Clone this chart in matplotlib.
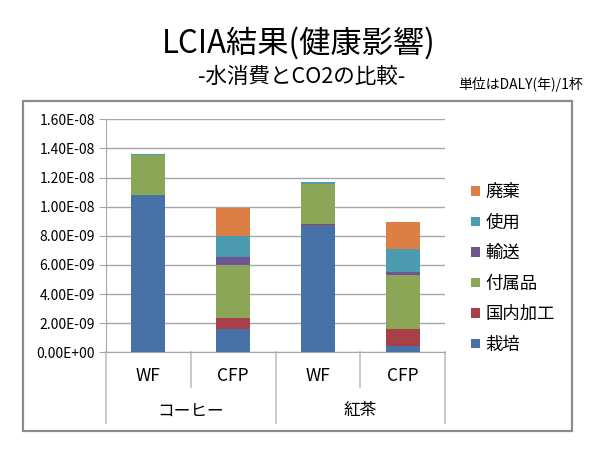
import numpy as np
import matplotlib.pyplot as plt
from matplotlib.patches import Rectangle
from matplotlib.ticker import FixedLocator, FixedFormatter

plt.rcParams['font.family'] = ['Noto Sans CJK JP', 'DejaVu Sans']

# values in units of 1e-9 DALY per cup
bars = ['WF', 'CFP', 'WF', 'CFP']
groups = ['コーヒー', '紅茶']
series = ['栽培', '国内加工', '付属品', '輸送', '使用', '廃棄']
saibai = [10.78, 1.62, 8.72, 0.45]
kokunai = [0.0, 0.71, 0.07, 1.17]
fuzoku = [2.75, 3.69, 2.79, 3.69]
yuso = [0.0, 0.50, 0.0, 0.23]
shiyo = [0.09, 1.49, 0.12, 1.53]
haiki = [0.0, 1.88, 0.0, 1.86]
yticks = [0, 2e-9, 4e-9, 6e-9, 8e-9, 1e-8, 1.2e-8, 1.4e-8, 1.6e-8]
ylabels = ['0.00E+00', '2.00E-09', '4.00E-09', '6.00E-09', '8.00E-09',
           '1.00E-08', '1.20E-08', '1.40E-08', '1.60E-08']

colors = ['#4672A8', '#A8404A', '#8BA656', '#6E5692', '#4B9CB1', '#DB7F45']

fig = plt.figure(figsize=(5.99, 4.49), dpi=100)
fig.patches.append(Rectangle((0.0384, 0.0401), 0.9165, 0.735, transform=fig.transFigure,
                             fill=False, edgecolor='#8C8C8C', linewidth=1.6))

ax = fig.add_axes([0.177, 0.2154, 0.566, 0.5189])
x = np.arange(len(bars))
bottom = np.zeros(len(bars))
handles = []
for name, vals, c in zip(series, [saibai, kokunai, fuzoku, yuso, shiyo, haiki], colors):
    v = np.array(vals) * 1e-9
    h = ax.bar(x, v, 0.4, bottom=bottom, color=c, label=name, zorder=3)
    handles.append(h)
    bottom = bottom + v

ax.set_xlim(-0.5, 3.5)
ax.set_ylim(0, 1.6e-8)
ax.yaxis.set_major_locator(FixedLocator(yticks))
ax.yaxis.set_major_formatter(FixedFormatter(ylabels))
ax.grid(axis='y', color='#A6A6A6', linewidth=1.0, zorder=0)
for s in ['top', 'right']:
    ax.spines[s].set_visible(False)
ax.spines['left'].set_color('#A6A6A6')
ax.spines['bottom'].set_color('#A6A6A6')
ax.tick_params(axis='y', length=5, color='#A6A6A6', labelsize=10, pad=3)
ax.set_xticks([])

trans = ax.get_xaxis_transform()
for xd, ylow in zip([-0.5, 0.5, 1.5, 2.5, 3.5], [-0.303, -0.149, -0.303, -0.149, -0.303]):
    ax.plot([xd, xd], [0, ylow], color='#C0C0C0', linewidth=1.2, transform=trans, clip_on=False)
for xi, b in zip(x, bars):
    ax.text(xi, -0.101, b, transform=trans, ha='center', va='center', fontsize=12.5)
for gi, g in enumerate(groups):
    ax.text(gi * 2 + 0.5, -0.252, g, transform=trans, ha='center', va='center', fontsize=12)

leg = ax.legend(handles[::-1], series[::-1], loc='center left', bbox_to_anchor=(1.03, 0.36),
                frameon=False, fontsize=12.5, handlelength=0.5, handleheight=0.5,
                handletextpad=0.35, labelspacing=0.72)

fig.text(0.498, 0.903, 'LCIA結果(健康影響)', ha='center', va='center', fontsize=22.5)
fig.text(0.503, 0.829, '-水消費とCO2の比較-', ha='center', va='center', fontsize=15.5)
fig.text(0.974, 0.811, '単位はDALY(年)/1杯', ha='right', va='center', fontsize=10)

fig.savefig('out.png', dpi=100)
